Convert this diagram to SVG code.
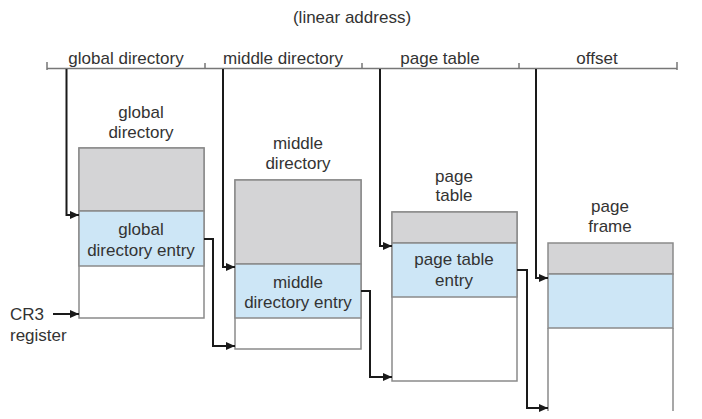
<svg xmlns="http://www.w3.org/2000/svg" width="702" height="419" viewBox="0 0 702 419">
<defs>
<marker id="ah" markerWidth="10" markerHeight="10" refX="9" refY="5" orient="auto" markerUnits="userSpaceOnUse">
<path d="M0,1 L9,5 L0,9 Z" fill="#1a1a1a"/>
</marker>
<style>
text{font-family:"Liberation Sans",Arial,sans-serif;font-size:17px;fill:#333;text-anchor:middle}
.gray{fill:#d4d4d6;stroke:#8a8a8a;stroke-width:1.5}
.blue{fill:#cde6f6;stroke:#8a8a8a;stroke-width:1.5}
.white{fill:#fff;stroke:#8a8a8a;stroke-width:1.5}
.edge{fill:none;stroke:#8a8a8a;stroke-width:1.5}
.conn{fill:none;stroke:#1a1a1a;stroke-width:2;marker-end:url(#ah)}
.axis{fill:none;stroke:#777;stroke-width:1.5}
</style>
</defs>
<rect width="702" height="419" fill="#fff"/>

<g id="linear-address">
<text x="352" y="23">(linear address)</text>
<path class="axis" d="M47,68.5 H677 M47,62 V70 M205,63 V68 M362,63 V68 M519,63 V68 M677,62 V70"/>
<text x="126" y="64">global directory</text>
<text x="283" y="64">middle directory</text>
<text x="440" y="64">page table</text>
<text x="597" y="64">offset</text>
</g>

<g id="global-directory">
<text x="141" y="118">global</text>
<text x="141" y="138">directory</text>
<rect class="white" x="79" y="148" width="125" height="170"/>
<rect class="gray" x="79" y="148" width="125" height="63"/>
<rect class="blue" x="79" y="211" width="125" height="55"/>
<text x="141" y="235">global</text>
<text x="141" y="256">directory entry</text>
</g>

<g id="middle-directory">
<text x="298" y="149">middle</text>
<text x="298" y="169">directory</text>
<rect class="white" x="235" y="180" width="126" height="169"/>
<rect class="gray" x="235" y="180" width="126" height="84"/>
<rect class="blue" x="235" y="264" width="126" height="54"/>
<text x="298" y="288">middle</text>
<text x="298" y="308">directory entry</text>
</g>

<g id="page-table">
<text x="454" y="182">page</text>
<text x="454" y="201">table</text>
<rect class="white" x="392" y="212" width="125" height="169"/>
<rect class="gray" x="392" y="212" width="125" height="31"/>
<rect class="blue" x="392" y="243" width="125" height="54"/>
<text x="454" y="265">page table</text>
<text x="454" y="286">entry</text>
</g>

<g id="page-frame">
<text x="610" y="212">page</text>
<text x="610" y="232">frame</text>
<rect x="548" y="243" width="125" height="168" fill="#fff"/>
<rect class="gray" x="548" y="243" width="125" height="31"/>
<rect class="blue" x="548" y="274" width="125" height="54"/>
<path class="edge" d="M548,328 V411 M673,328 V411"/>
</g>

<g id="cr3">
<text x="10" y="320" style="text-anchor:start">CR3</text>
<text x="10" y="341" style="text-anchor:start">register</text>
</g>

<g id="connectors">
<path class="conn" d="M66.5,69 V215 H79"/>
<path class="conn" d="M223,69 V267 H235"/>
<path class="conn" d="M380,69 V246 H392"/>
<path class="conn" d="M536,69 V278 H548"/>
<path class="conn" d="M53,314 H79"/>
<path class="conn" d="M204,239 H213 V346 H235"/>
<path class="conn" d="M361,291 H370 V377 H392"/>
<path class="conn" d="M517,270 H527 V408 H548"/>
</g>
</svg>
